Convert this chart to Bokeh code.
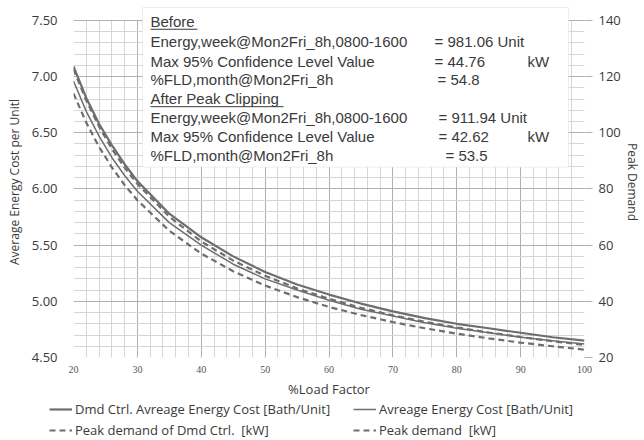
from bokeh.plotting import figure
from bokeh.layouts import column
from bokeh.models import (Range1d, LinearAxis, FixedTicker, NumeralTickFormatter,
                          Label, BoxAnnotation, Legend, LegendItem, Grid)
from bokeh.embed import file_html
from bokeh.resources import INLINE

# ---- data ----
load_factor = [20, 22, 24, 26, 28, 30, 35, 40, 45, 50, 55, 60, 65, 70, 75, 80, 85, 90, 95, 100]
dmd_ctrl_cost = [7.09, 6.81, 6.58, 6.39, 6.22, 6.07, 5.78, 5.57, 5.40, 5.26, 5.15, 5.06,
                 4.98, 4.91, 4.85, 4.80, 4.76, 4.72, 4.68, 4.65]
avg_cost = [6.96, 6.69, 6.47, 6.28, 6.12, 5.98, 5.70, 5.50, 5.33, 5.20, 5.10, 5.01,
            4.93, 4.87, 4.81, 4.76, 4.72, 4.68, 4.65, 4.62]
peak_dmd_ctrl = [114.0, 103.6, 95.0, 87.7, 81.4, 76.0, 65.1, 57.0, 50.7, 45.6, 41.5, 38.0,
                 35.1, 32.6, 30.4, 28.5, 26.8, 25.3, 24.0, 22.8]
peak_demand = [122.6, 111.5, 102.2, 94.3, 87.6, 81.8, 70.1, 61.3, 54.5, 49.1, 44.6, 40.9,
               37.7, 35.0, 32.7, 30.7, 28.9, 27.3, 25.8, 24.5]

x_ticks = [20, 30, 40, 50, 60, 70, 80, 90, 100]
x_minor = list(range(20, 101, 2))
y_ticks = [4.5, 5.0, 5.5, 6.0, 6.5, 7.0, 7.5]
y_minor = [round(4.5 + 0.1 * i, 2) for i in range(31)]
y2_ticks = [20, 40, 60, 80, 100, 120, 140]

legend_names = ["Dmd Ctrl. Avreage Energy Cost [Bath/Unit]", "Avreage Energy Cost [Bath/Unit]",
                "Peak demand of Dmd Ctrl.  [kW]", "Peak demand  [kW]"]

box_left_texts = ["Before", "Energy,week@Mon2Fri_8h,0800-1600", "Max 95% Confidence Level Value",
                  "%FLD,month@Mon2Fri_8h", "After Peak Clipping",
                  "Energy,week@Mon2Fri_8h,0800-1600", "Max 95% Confidence Level Value",
                  "%FLD,month@Mon2Fri_8h"]
box_value_texts = ["", "= 981.06 Unit", "= 44.76", "= 54.8", "", "= 911.94 Unit", "= 42.62", "= 53.5"]
box_unit_texts = ["", "", "kW", "", "", "", "kW", ""]

FONT = "Open Sans"
TXT = "#3a3a3a"
LINE = "#6e6e6e"

p = figure(width=644, height=400, output_backend="svg", toolbar_location=None,
           x_range=Range1d(20, 100), y_range=Range1d(4.5, 7.6235),
           min_border_left=73, min_border_right=60, min_border_top=6, min_border_bottom=40)
p.extra_y_ranges = {"peak": Range1d(20, 144.94)}
p.outline_line_color = None
p.background_fill_color = "white"
p.border_fill_color = "white"
p.frame_align = False

p.xaxis.ticker = FixedTicker(ticks=x_ticks, minor_ticks=x_minor)
p.yaxis.ticker = FixedTicker(ticks=y_ticks, minor_ticks=y_minor)
for g in (p.xgrid, p.ygrid):
    g.grid_line_color = "#b0b0b0"
    g.grid_line_width = 1
    g.minor_grid_line_color = "#d6d6d6"
    g.minor_grid_line_width = 1
has_cross = "cross_bounds" in Grid.properties()
if has_cross:
    p.xgrid.cross_bounds = (4.5, 7.5)

p.xaxis.axis_label = "%Load Factor"
p.xaxis.axis_label_text_font = FONT
p.xaxis.axis_label_text_font_size = "13px"
p.xaxis.axis_label_text_font_style = "normal"
p.xaxis.axis_label_text_color = TXT
p.xaxis.axis_label_standoff = 4
p.xaxis.major_label_text_font = "Liberation Serif"
p.xaxis.major_label_text_font_size = "10px"
p.xaxis.major_label_text_color = "#555555"
p.xaxis.major_label_standoff = 2
p.xaxis.axis_line_color = None
p.xaxis.major_tick_line_color = None
p.xaxis.minor_tick_line_color = None

p.yaxis.axis_label = "Average Energy Cost per Unitl"
p.yaxis.axis_label_text_font = FONT
p.yaxis.axis_label_text_font_size = "12px"
p.yaxis.axis_label_text_font_style = "normal"
p.yaxis.axis_label_text_color = TXT
p.yaxis.axis_label_standoff = 6
p.yaxis.formatter = NumeralTickFormatter(format="0.00")
p.yaxis.major_label_text_font = FONT
p.yaxis.major_label_text_font_size = "13px"
p.yaxis.major_label_text_color = TXT
p.yaxis.major_label_standoff = 10
p.yaxis.axis_line_color = None
p.yaxis.major_tick_line_color = None
p.yaxis.minor_tick_line_color = None

y2 = LinearAxis(y_range_name="peak", axis_label="Peak Demand",
                ticker=FixedTicker(ticks=y2_ticks, minor_ticks=[]))
y2.axis_label_text_font = FONT
y2.axis_label_text_font_size = "12px"
y2.axis_label_text_font_style = "normal"
y2.axis_label_text_color = TXT
y2.axis_label_standoff = 0
y2.major_label_text_font = FONT
y2.major_label_text_font_size = "13px"
y2.major_label_text_color = TXT
y2.major_label_standoff = 6
y2.axis_line_color = None
y2.major_tick_line_color = "#b0b0b0"
y2.major_tick_out = 8
y2.major_tick_in = 0
y2.minor_tick_line_color = None
p.add_layout(y2, "right")

if not has_cross:
    p.quad(left=[20, 97.5], right=[30.8, 100], bottom=[7.5005, 7.5005], top=[7.6235, 7.6235],
           fill_color="white", line_color=None)

r_dmd = p.line(load_factor, dmd_ctrl_cost, line_color=LINE, line_width=2.2)
r_avg = p.line(load_factor, avg_cost, line_color=LINE, line_width=1.5)
r_pdc = p.line(load_factor, peak_dmd_ctrl, y_range_name="peak", line_color=LINE,
               line_width=2.2, line_dash="6 4")
r_pd = p.line(load_factor, peak_demand, y_range_name="peak", line_color=LINE,
              line_width=2.2, line_dash="6 4")

p.add_layout(BoxAnnotation(left=30.8, right=97.5, top=7.615, bottom=6.194,
                           fill_color="white", fill_alpha=1.0,
                           line_color="#c8c8c8", line_width=1))
row_y = [7.491, 7.315, 7.138, 6.971, 6.803, 6.635, 6.468, 6.300]
val_x = [76.52, 76.52, 76.52, 76.99, 77.14, 77.14, 77.14, 78.24]
for i in range(len(box_left_texts)):
    p.add_layout(Label(x=32.05, y=row_y[i], text=box_left_texts[i], text_font="Liberation Sans",
                       text_font_size="15px", text_color=TXT, text_baseline="middle"))
    if box_value_texts[i]:
        p.add_layout(Label(x=val_x[i], y=row_y[i], text=box_value_texts[i],
                           text_font="Liberation Sans", text_font_size="15px",
                           text_color=TXT, text_baseline="middle"))
    if box_unit_texts[i]:
        p.add_layout(Label(x=91.08, y=row_y[i], text=box_unit_texts[i],
                           text_font="Liberation Sans", text_font_size="15px",
                           text_color=TXT, text_baseline="middle"))
p.segment(x0=[32.05, 32.05], y0=[7.421, 6.732], x1=[39.41, 52.88], y1=[7.421, 6.732],
          line_color=TXT, line_width=1, level="overlay")

# ---- legend strip below (its ranges keep the series lines out of view; only the legend shows) ----
p2 = figure(width=644, height=40, output_backend="svg", toolbar_location=None,
            x_range=Range1d(0, 1), y_range=Range1d(0, 1),
            x_axis_type=None, y_axis_type=None, min_border=0)
p2.frame_align = False
p2.outline_line_color = None
p2.grid.visible = False
l_dmd = p2.line(load_factor, dmd_ctrl_cost, line_color=LINE, line_width=2.2)
l_avg = p2.line(load_factor, avg_cost, line_color=LINE, line_width=1.5)
l_pdc = p2.line(load_factor, peak_dmd_ctrl, line_color=LINE, line_width=2.2, line_dash="6 4")
l_pd = p2.line(load_factor, peak_demand, line_color=LINE, line_width=2.2, line_dash="6 4")

legend = Legend(items=[LegendItem(label=legend_names[0], renderers=[l_dmd]),
                       LegendItem(label=legend_names[2], renderers=[l_pdc]),
                       LegendItem(label=legend_names[1], renderers=[l_avg]),
                       LegendItem(label=legend_names[3], renderers=[l_pd])],
                ncols=2, location=(49, 1))
legend.border_line_color = None
legend.background_fill_alpha = 0
legend.label_text_font = FONT
legend.label_text_font_size = "13px"
legend.label_text_color = TXT
legend.glyph_width = 23
legend.glyph_height = 18
legend.label_height = 18
legend.label_standoff = 3
legend.label_width = 275
legend.spacing = 3
legend.padding = 0
legend.margin = 0
p2.add_layout(legend, "center")

open("out.html", "w").write(file_html(column(p, p2, spacing=0), INLINE))
